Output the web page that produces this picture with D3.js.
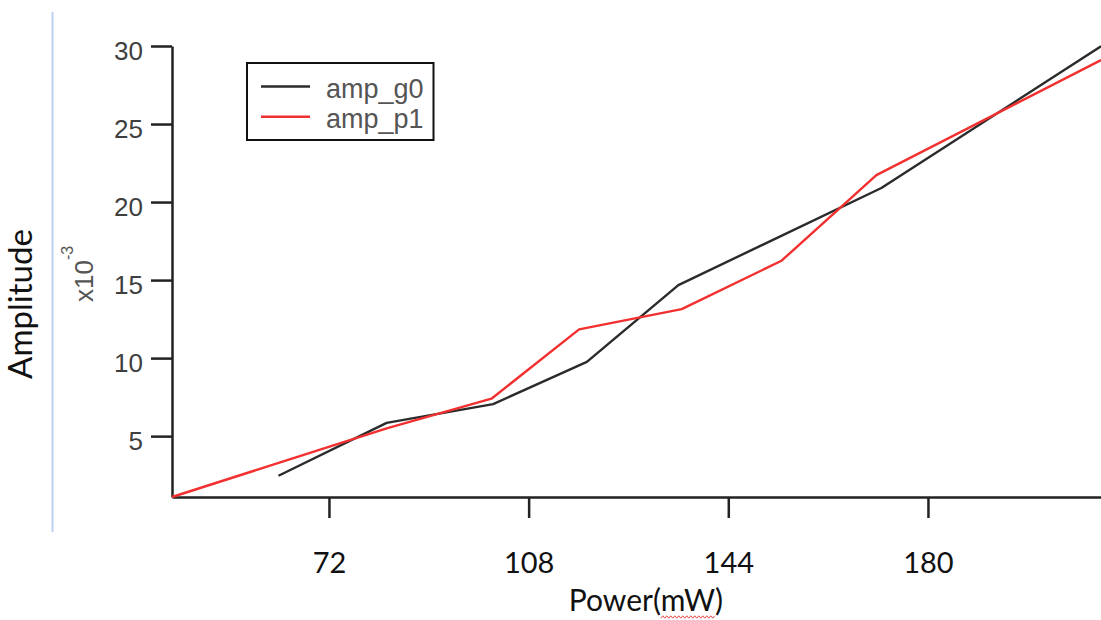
<!DOCTYPE html>
<html>
<head>
<meta charset="utf-8">
<script src="https://cdn.jsdelivr.net/npm/d3@7/dist/d3.min.js"></script>
<style>
  html, body { margin: 0; padding: 0; background: #fff; }
  svg { display: block; }
</style>
</head>
<body>
<svg id="chart" width="1101" height="620"></svg>
<script>
// Amplitude vs. laser power, amplitudes in units of 1e-3
const powerG0 = [62.9, 82.4, 101.6, 118.5, 135.0, 171.6, 211.2];
const ampG0   = [2.46, 5.85, 7.05, 9.76, 14.68, 20.9, 29.98];

const powerP1 = [43.7, 82.4, 101.3, 117.1, 135.6, 153.6, 170.7, 211.2];
const ampP1   = [1.1, 5.5, 7.4, 11.84, 13.14, 16.24, 21.73, 29.1];

const seriesNames = ["amp_g0", "amp_p1"];
const seriesColors = ["#2b2b2b", "#f23030"];

const xTicks = [72, 108, 144, 180];
const yTicks = [5, 10, 15, 20, 25, 30];

const svg = d3.select("#chart");

const x = d3.scaleLinear().domain([43.7, 211.2]).range([172, 1101]);
const y = d3.scaleLinear().domain([1.1, 30]).range([497, 46]);

// light blue guide rule at far left
svg.append("line")
  .attr("x1", 52.5).attr("x2", 52.5)
  .attr("y1", 12).attr("y2", 532)
  .attr("stroke", "#b9d1f2").attr("stroke-width", 2);

// y axis
const gy = svg.append("g")
  .attr("transform", `translate(${x.range()[0]},0)`)
  .call(d3.axisLeft(y).tickValues(yTicks).tickSize(21).tickSizeOuter(0).tickPadding(8));
gy.select(".domain").attr("stroke", "#222").attr("stroke-width", 2.5);
gy.selectAll(".tick line").attr("stroke", "#222").attr("stroke-width", 2.5);
gy.selectAll(".tick text")
  .attr("font-family", "'Liberation Sans', Arial, sans-serif")
  .attr("font-size", 26)
  .attr("fill", "#3f3f3f")
  .attr("dy", null)
  .attr("y", 13);

// x axis
const gx = svg.append("g")
  .attr("transform", `translate(0,${y.range()[0]})`)
  .call(d3.axisBottom(x).tickValues(xTicks).tickSize(21).tickSizeOuter(0).tickPadding(0));
gx.select(".domain").attr("stroke", "#222").attr("stroke-width", 2.5);
gx.selectAll(".tick line").attr("stroke", "#222").attr("stroke-width", 2.5);
gx.selectAll(".tick text")
  .attr("font-family", "Lato, 'Noto Sans', sans-serif")
  .attr("font-size", 29)
  .attr("fill", "#111")
  .attr("dy", null)
  .attr("y", 76);

// series lines
const line = d3.line().x(d => x(d[0])).y(d => y(d[1]));
const seriesData = [
  d3.zip(powerG0, ampG0),
  d3.zip(powerP1, ampP1)
];
seriesData.forEach((pts, i) => {
  svg.append("path")
    .datum(pts)
    .attr("fill", "none")
    .attr("stroke", seriesColors[i])
    .attr("stroke-width", 2.4)
    .attr("stroke-linejoin", "round")
    .attr("d", line);
});

// axis titles
svg.append("text")
  .attr("transform", "translate(32,304) rotate(-90)")
  .attr("text-anchor", "middle")
  .attr("font-family", "Lato, 'Noto Sans', sans-serif")
  .attr("font-size", 33)
  .attr("fill", "#111")
  .text("Amplitude");

const mult = svg.append("text")
  .attr("transform", "translate(93,302) rotate(-90)")
  .attr("font-family", "'Liberation Sans', Arial, sans-serif")
  .attr("font-size", 26)
  .attr("fill", "#555");
mult.append("tspan").text("x10");
mult.append("tspan").attr("dy", -20).attr("font-size", 16).text("-3");

const xTitle = svg.append("text")
  .attr("x", 646).attr("y", 611)
  .attr("text-anchor", "middle")
  .attr("font-family", "Lato, 'Noto Sans', sans-serif")
  .attr("font-size", 30)
  .attr("fill", "#111")
  .text("Power(mW)");

// red wavy underline beneath "mW"
(function () {
  const node = xTitle.node();
  const full = node.getComputedTextLength();
  const start = 646 - full / 2 + node.getSubStringLength(0, 6);
  const len = node.getSubStringLength(6, 2);
  const pts = [];
  for (let i = 0; i <= Math.round(len / 2); i++) {
    pts.push([start + i * 2, 617 + (i % 2 ? -1.2 : 1.2)]);
  }
  svg.append("path")
    .attr("d", d3.line()(pts))
    .attr("fill", "none")
    .attr("stroke", "#e64545")
    .attr("stroke-width", 1);
})();

// legend
const legend = svg.append("g");
legend.append("rect")
  .attr("x", 247).attr("y", 63)
  .attr("width", 186.5).attr("height", 77)
  .attr("fill", "#fff")
  .attr("stroke", "#111").attr("stroke-width", 2);
seriesNames.forEach((name, i) => {
  const ly = 86.5 + i * 30.2;
  legend.append("line")
    .attr("x1", 261).attr("x2", 310)
    .attr("y1", ly).attr("y2", ly)
    .attr("stroke", seriesColors[i]).attr("stroke-width", 2.4);
  legend.append("text")
    .attr("x", 326).attr("y", ly + 11.5)
    .attr("font-family", "'Liberation Sans', Arial, sans-serif")
    .attr("font-size", 27)
    .attr("fill", "#555")
    .text(name);
});
</script>
</body>
</html>
